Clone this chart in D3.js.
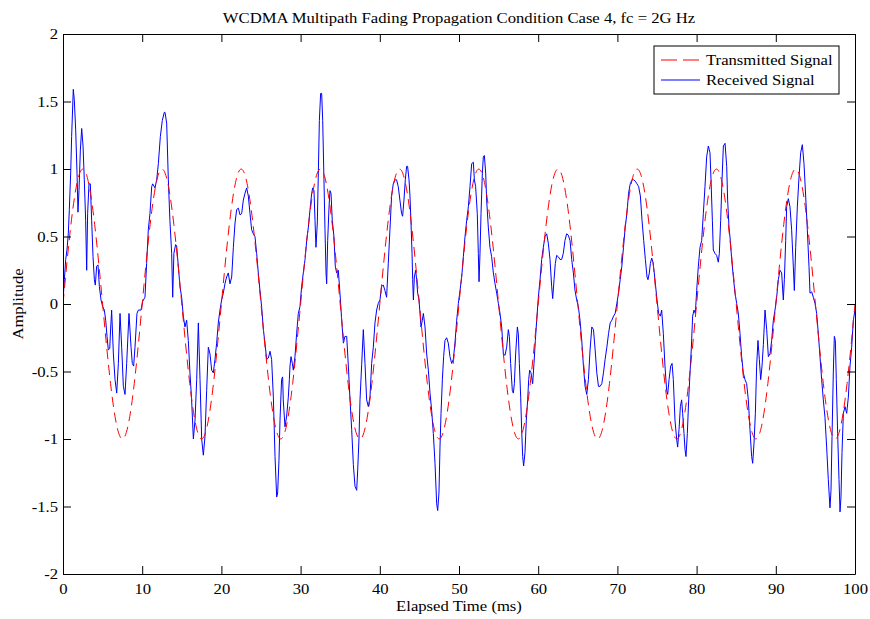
<!DOCTYPE html>
<html>
<head>
<meta charset="utf-8">
<script src="https://cdn.jsdelivr.net/npm/d3@7"></script>
<style>
  html, body { margin: 0; padding: 0; background: #ffffff; }
  svg { display: block; }
  text { font-family: "Liberation Serif", "Times New Roman", serif; fill: #000; }
</style>
</head>
<body>
<svg id="chart" width="870" height="619"></svg>
<script>
// ---------------- DATA ----------------
const chartTitle = "WCDMA Multipath Fading Propagation Condition Case 4, fc = 2G Hz";
const xLabel = "Elapsed Time (ms)";
const yLabel = "Amplitude";
const seriesNames = ["Transmitted Signal", "Received Signal"];
const xTicks = [0, 10, 20, 30, 40, 50, 60, 70, 80, 90, 100];
const yTicks = [-2, -1.5, -1, -0.5, 0, 0.5, 1, 1.5, 2];

const txTime = [0,1,2,3,4,5,6,7,8,9,10,11,12,13,14,15,16,17,18,19,20,21,22,23,24,25,26,27,28,29,30,31,32,33,34,35,36,37,38,39,40,41,42,43,44,45,46,47,48,49,50,51,52,53,54,55,56,57,58,59,60,61,62,63,64,65,66,67,68,69,70,71,72,73,74,75,76,77,78,79,80,81,82,83,84,85,86,87,88,89,90,91,92,93,94,95,96,97,98,99,100];
const txValue = [
  0,0.588,0.951,0.951,0.588,0,-0.588,-0.951,-0.951,-0.588,
  0,0.588,0.951,0.951,0.588,0,-0.588,-0.951,-0.951,-0.588,
  0,0.588,0.951,0.951,0.588,0,-0.588,-0.951,-0.951,-0.588,
  0,0.588,0.951,0.951,0.588,0,-0.588,-0.951,-0.951,-0.588,
  0,0.588,0.951,0.951,0.588,0,-0.588,-0.951,-0.951,-0.588,
  0,0.588,0.951,0.951,0.588,0,-0.588,-0.951,-0.951,-0.588,
  0,0.588,0.951,0.951,0.588,0,-0.588,-0.951,-0.951,-0.588,
  0,0.588,0.951,0.951,0.588,0,-0.588,-0.951,-0.951,-0.588,
  0,0.588,0.951,0.951,0.588,0,-0.588,-0.951,-0.951,-0.588,
  0,0.588,0.951,0.951,0.588,0,-0.588,-0.951,-0.951,-0.588,
  0];

// Received signal
const rxTime = [
  0,0.17,0.34,0.5,0.67,0.8,0.97,1.09,1.3,1.43,1.6,1.77,1.89,2.02,2.19,2.36,2.53,2.69,2.86,2.99,
  3.11,3.28,3.45,3.62,3.79,3.96,4.08,4.25,4.42,4.59,4.8,5.01,5.22,5.39,5.56,5.72,5.9,6.0,6.14,6.36,
  6.57,6.78,6.99,7.2,7.41,7.62,7.83,8.04,8.33,8.59,8.75,8.92,9.09,9.34,9.51,9.85,10.06,10.35,10.56,10.77,
  10.98,11.2,11.32,11.62,11.83,12.04,12.29,12.54,12.79,12.88,13.09,13.3,13.5,13.72,13.85,14.0,14.22,14.35,14.56,14.77,
  14.98,15.19,15.4,15.61,15.82,16.03,16.24,16.46,16.67,16.88,17.09,17.3,17.51,17.72,17.93,18.14,18.35,18.56,18.77,18.98,
  19.19,19.4,19.61,19.82,20.03,20.24,20.45,20.66,20.87,21.08,21.3,21.51,21.72,21.93,22.14,22.35,22.56,22.77,22.98,23.19,
  23.4,23.61,23.82,24.03,24.24,24.45,24.66,24.87,25.08,25.3,25.5,25.72,25.93,26.14,26.34,26.56,26.77,26.98,27.1,27.27,
  27.4,27.6,27.73,27.81,28.03,28.24,28.45,28.58,28.66,28.79,28.96,29.08,29.29,29.5,29.71,29.92,30.13,30.34,30.56,30.77,
  30.98,31.19,31.4,31.53,31.69,31.82,31.94,32.11,32.24,32.37,32.53,32.66,32.79,32.95,33.08,33.21,33.29,33.42,33.59,33.71,
  33.84,34.0,34.21,34.38,34.55,34.76,34.97,35.19,35.4,35.6,35.82,36.03,36.24,36.45,36.66,36.87,37.08,37.21,37.37,37.5,
  37.71,37.92,38.13,38.34,38.55,38.76,38.97,39.18,39.39,39.6,39.81,40.02,40.23,40.44,40.65,40.86,41.07,41.28,41.49,41.7,
  41.91,42.12,42.33,42.54,42.75,42.88,43.05,43.22,43.39,43.51,43.69,43.81,43.94,44.07,44.15,44.24,44.36,44.53,44.65,44.78,
  44.95,45.08,45.2,45.37,45.5,45.71,45.92,46.13,46.34,46.55,46.76,46.97,47.18,47.31,47.47,47.6,47.73,47.9,48.06,48.23,
  48.44,48.65,48.86,49.07,49.28,49.49,49.71,49.92,50.13,50.34,50.55,50.76,50.97,51.18,51.39,51.6,51.81,51.94,52.1,52.31,
  52.44,52.53,52.65,52.78,52.95,53.07,53.2,53.37,53.49,53.7,53.91,54.12,54.34,54.55,54.76,54.97,55.18,55.39,55.6,55.81,
  56.02,56.23,56.36,56.52,56.73,56.86,56.99,57.15,57.37,57.49,57.62,57.79,57.91,58.04,58.16,58.33,58.5,58.67,58.8,58.92,
  59.09,59.3,59.47,59.64,59.81,60.02,60.23,60.44,60.65,60.86,61.07,61.28,61.49,61.7,61.83,62.0,62.16,62.33,62.54,62.75,
  62.96,63.17,63.38,63.59,63.8,64.02,64.23,64.44,64.65,64.86,65.07,65.28,65.5,65.71,65.92,66.13,66.34,66.55,66.77,66.98,
  67.19,67.4,67.61,67.82,68.03,68.24,68.45,68.67,68.88,69.09,69.3,69.51,69.72,69.93,70.14,70.35,70.56,70.77,70.99,71.2,
  71.41,71.62,71.84,72.05,72.26,72.47,72.68,72.9,73.11,73.32,73.53,73.74,73.86,74.03,74.16,74.33,74.49,74.66,74.83,75.0,
  75.21,75.42,75.59,75.8,76.01,76.22,76.35,76.52,76.73,76.9,77.06,77.27,77.48,77.61,77.78,77.95,78.11,78.24,78.41,78.54,
  78.66,78.83,79.0,79.17,79.34,79.5,79.67,79.84,80.01,80.22,80.43,80.64,80.85,81.06,81.27,81.48,81.69,81.82,81.99,82.11,
  82.32,82.53,82.74,82.87,83.04,83.21,83.38,83.59,83.8,83.92,84.09,84.26,84.43,84.64,84.85,85.06,85.27,85.48,85.69,85.9,
  86.11,86.32,86.53,86.74,86.95,87.08,87.25,87.42,87.58,87.75,87.92,88.09,88.26,88.43,88.64,88.85,89.06,89.27,89.48,89.69,
  89.9,90.11,90.32,90.53,90.74,90.95,91.08,91.25,91.37,91.58,91.79,92.0,92.21,92.34,92.51,92.72,92.93,93.14,93.35,93.56,
  93.77,93.98,94.19,94.32,94.53,94.74,94.95,95.16,95.37,95.58,95.79,96.0,96.21,96.42,96.63,96.84,96.97,97.1,97.26,97.39,
  97.52,97.64,97.81,97.98,98.11,98.23,98.36,98.53,98.74,98.95,99.16,99.37,99.58,99.79,100];
const rxValue = [
  0.02,0.18,0.33,0.4,0.52,0.7,0.97,1.24,1.59,1.51,1.29,0.97,0.68,0.84,1.14,1.3,1.17,0.92,0.62,0.25,
  0.67,0.89,0.89,0.62,0.35,0.18,0.14,0.28,0.29,0.13,0.03,-0.02,-0.045,-0.12,-0.24,-0.34,-0.33,-0.2,-0.045,-0.37,
  -0.56,-0.66,-0.44,-0.07,-0.32,-0.61,-0.67,-0.44,-0.07,-0.32,-0.44,-0.46,-0.32,-0.07,-0.045,-0.045,0.02,0.05,0.3,0.55,
  0.67,0.87,0.89,0.86,0.92,1.04,1.24,1.36,1.42,1.42,1.34,0.92,0.62,0.375,0.05,0.375,0.44,0.43,0.28,0.13,
  0.05,-0.09,-0.17,-0.12,-0.27,-0.51,-0.71,-1.0,-0.86,-0.56,-0.14,-0.56,-1.0,-1.12,-0.98,-0.64,-0.32,-0.37,-0.49,-0.51,
  -0.41,-0.29,-0.14,-0.045,0.03,0.08,0.15,0.2,0.23,0.15,0.2,0.42,0.6,0.7,0.71,0.66,0.67,0.77,0.82,0.86,
  0.8,0.67,0.55,0.52,0.5,0.375,0.23,0.1,-0.02,-0.19,-0.29,-0.41,-0.4,-0.35,-0.41,-0.69,-1.13,-1.43,-1.4,-1.16,
  -0.86,-0.56,-0.54,-0.71,-0.91,-0.83,-0.69,-0.56,-0.46,-0.39,-0.44,-0.49,-0.39,-0.22,-0.07,-0.02,0.13,0.23,0.33,0.47,
  0.57,0.7,0.82,0.86,0.84,0.62,0.42,0.6,0.97,1.36,1.56,1.56,1.36,0.92,0.55,0.23,0.15,0.47,0.72,0.84,
  0.82,0.62,0.5,0.28,0.23,0.25,0.08,-0.12,-0.29,-0.24,-0.24,-0.46,-0.71,-0.93,-1.19,-1.35,-1.38,-1.23,-1.0,-0.71,
  -0.45,-0.19,-0.44,-0.71,-0.76,-0.69,-0.44,-0.32,-0.14,-0.045,0.005,0.03,0.13,0.14,0.1,0.05,0.3,0.55,0.8,0.89,
  0.92,0.92,0.87,0.77,0.67,0.65,0.77,0.92,1.02,1.02,0.92,0.8,0.6,0.375,0.18,0.03,0.2,0.25,0.18,0.08,
  0.03,-0.07,-0.17,-0.12,-0.07,-0.17,-0.37,-0.49,-0.66,-0.79,-0.96,-1.18,-1.48,-1.53,-1.4,-1.06,-0.81,-0.56,-0.39,-0.27,
  -0.25,-0.29,-0.39,-0.44,-0.41,-0.29,-0.12,0.005,0.1,0.2,0.35,0.5,0.62,0.72,0.87,1.04,1.05,0.92,0.87,0.67,
  0.375,0.165,0.375,0.67,0.97,1.09,1.1,0.97,0.77,0.57,0.42,0.35,0.23,0.15,0.08,0.005,-0.07,-0.17,-0.37,-0.38,
  -0.32,-0.19,-0.24,-0.44,-0.64,-0.66,-0.59,-0.37,-0.17,-0.22,-0.44,-0.69,-0.93,-1.13,-1.2,-1.1,-0.86,-0.71,-0.56,-0.49,
  -0.51,-0.59,-0.44,-0.27,-0.12,0.05,0.18,0.33,0.42,0.5,0.52,0.45,0.33,0.13,0.04,0.18,0.3,0.36,0.35,0.33,
  0.33,0.375,0.47,0.52,0.51,0.47,0.33,0.23,0.1,0.03,-0.02,-0.12,-0.27,-0.46,-0.61,-0.67,-0.56,-0.34,-0.17,-0.19,
  -0.34,-0.51,-0.61,-0.61,-0.59,-0.51,-0.41,-0.32,-0.22,-0.14,-0.12,-0.09,-0.07,0.005,0.08,0.18,0.28,0.42,0.57,0.67,
  0.82,0.89,0.92,0.92,0.91,0.89,0.87,0.8,0.62,0.47,0.33,0.2,0.18,0.23,0.3,0.34,0.31,0.23,0.13,0.03,
  -0.07,-0.09,-0.045,-0.22,-0.46,-0.64,-0.67,-0.56,-0.46,-0.44,-0.56,-0.86,-1.0,-1.06,-0.93,-0.76,-0.71,-0.81,-0.96,-1.08,
  -1.13,-0.96,-0.71,-0.51,-0.32,-0.09,-0.045,-0.07,0.1,0.28,0.42,0.47,0.67,0.87,1.09,1.17,1.12,0.92,0.62,0.4,
  0.375,0.36,0.31,0.375,0.62,0.92,1.17,1.19,1.02,0.77,0.57,0.47,0.33,0.2,0.08,0.005,-0.07,-0.22,-0.39,-0.51,
  -0.56,-0.59,-0.71,-0.93,-1.13,-1.18,-1.03,-0.81,-0.46,-0.27,-0.41,-0.56,-0.46,-0.3,-0.045,-0.19,-0.39,-0.37,-0.27,-0.12,
  -0.045,0.05,0.18,0.25,0.23,0.03,0.18,0.47,0.72,0.78,0.72,0.55,0.28,0.1,0.42,0.72,0.94,1.12,1.18,1.04,
  0.8,0.55,0.28,0.08,0.09,0.05,0.005,-0.07,-0.22,-0.39,-0.56,-0.71,-0.84,-1.06,-1.3,-1.51,-1.38,-0.98,-0.51,-0.24,
  -0.27,-0.56,-0.96,-1.3,-1.54,-1.43,-1.1,-0.81,-0.76,-0.81,-0.69,-0.46,-0.32,-0.12,-0.045];

// ---------------- CHART ----------------
const svg = d3.select("#chart");
const W = 870, H = 619;
const margin = { left: 63, right: 15, top: 34, bottom: 45 };
const plotW = W - margin.left - margin.right;   // 792
const plotH = H - margin.top - margin.bottom;   // 540

svg.append("rect").attr("width", W).attr("height", H).attr("fill", "#ffffff");

const x = d3.scaleLinear().domain([0, 100]).range([margin.left, margin.left + plotW]);
const y = d3.scaleLinear().domain([-2, 2]).range([margin.top + plotH, margin.top]);

const fontSize = 15;
const stretch = 1.11;   // reference glyphs are slightly wider than Liberation Serif
const tickLen = 8;

function widen(sel) {
  sel.each(function () {
    const len = this.getComputedTextLength();
    if (len > 0) {
      d3.select(this).attr("textLength", len * stretch).attr("lengthAdjust", "spacingAndGlyphs");
    }
  });
}

// clip
svg.append("defs").append("clipPath").attr("id", "plotClip")
  .append("rect").attr("x", margin.left).attr("y", margin.top).attr("width", plotW).attr("height", plotH);

const txData = txTime.map((t, i) => [t, txValue[i]]);
const rxData = rxTime.map((t, i) => [t, rxValue[i]]);

const lines = svg.append("g").attr("clip-path", "url(#plotClip)");

lines.append("path")
  .datum(rxData)
  .attr("fill", "none")
  .attr("stroke", "#0000ff")
  .attr("stroke-width", 1)
  .attr("d", d3.line().x(d => x(d[0])).y(d => y(d[1])));

lines.append("path")
  .datum(txData)
  .attr("fill", "none")
  .attr("stroke", "#ff0000")
  .attr("stroke-width", 1)
  .attr("stroke-dasharray", "10,6")
  .attr("d", d3.line().curve(d3.curveNatural).x(d => x(d[0])).y(d => y(d[1])));

// Axes (MATLAB style: box, inward ticks on all sides)
const axB = d3.axisBottom(x).tickValues(xTicks).tickSizeInner(-tickLen).tickSizeOuter(0).tickPadding(9).tickFormat(d3.format("d"));
const axT = d3.axisTop(x).tickValues(xTicks).tickSizeInner(-tickLen).tickSizeOuter(0).tickFormat("");
const axL = d3.axisLeft(y).tickValues(yTicks).tickSizeInner(-tickLen).tickSizeOuter(0).tickPadding(5).tickFormat(d => String(d));
const axR = d3.axisRight(y).tickValues(yTicks).tickSizeInner(-tickLen).tickSizeOuter(0).tickFormat("");

function styleAxis(g) {
  g.select(".domain").attr("stroke", "#000").attr("stroke-width", 1);
  g.selectAll(".tick line").attr("stroke", "#000").attr("stroke-width", 1);
  g.selectAll(".tick text").attr("font-family", "Liberation Serif, Times New Roman, serif").attr("font-size", fontSize).attr("fill", "#000");
}

svg.append("g").attr("transform", `translate(0,${margin.top + plotH})`).call(axB).call(styleAxis).selectAll(".tick text").call(widen);
svg.append("g").attr("transform", `translate(0,${margin.top})`).call(axT).call(styleAxis);
svg.append("g").attr("transform", `translate(${margin.left},0)`).call(axL).call(styleAxis).selectAll(".tick text").call(widen);
svg.append("g").attr("transform", `translate(${margin.left + plotW},0)`).call(axR).call(styleAxis);

// Title and axis labels
svg.append("text")
  .attr("x", margin.left + plotW / 2).attr("y", 23)
  .attr("text-anchor", "middle").attr("font-size", fontSize)
  .text(chartTitle).call(widen);

svg.append("text")
  .attr("x", margin.left + plotW / 2).attr("y", 611)
  .attr("text-anchor", "middle").attr("font-size", fontSize)
  .text(xLabel).call(widen);

svg.append("text")
  .attr("transform", `translate(23,${margin.top + plotH / 2}) rotate(-90)`)
  .attr("text-anchor", "middle").attr("font-size", fontSize)
  .text(yLabel).call(widen);

// Legend
const lgX = 654, lgY = 46, lgW = 185, lgH = 48;
const lg = svg.append("g");
lg.append("rect").attr("x", lgX).attr("y", lgY).attr("width", lgW).attr("height", lgH)
  .attr("fill", "#fff").attr("stroke", "#000").attr("stroke-width", 1);
const legendItems = [
  { name: seriesNames[0], color: "#ff0000", dash: "16,6" },
  { name: seriesNames[1], color: "#0000ff", dash: null }
];
legendItems.forEach((it, i) => {
  const yy = lgY + 14 + i * 20;
  lg.append("line").attr("x1", lgX + 7).attr("x2", lgX + 46).attr("y1", yy).attr("y2", yy)
    .attr("stroke", it.color).attr("stroke-width", 1)
    .attr("stroke-dasharray", it.dash);
  lg.append("text").attr("x", lgX + 52).attr("y", yy + 5).attr("font-size", fontSize).text(it.name).call(widen);
});
</script>
</body>
</html>
